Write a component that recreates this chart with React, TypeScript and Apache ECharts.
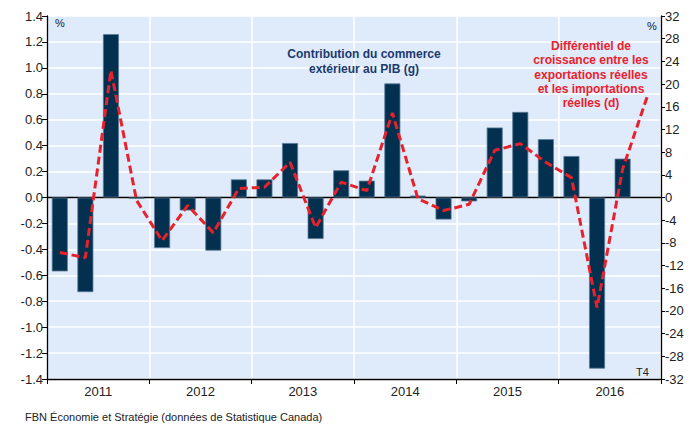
import React, { useEffect, useRef } from "react";
import * as echarts from "echarts";

const years = ["2011", "2012", "2013", "2014", "2015", "2016"];
const quarterNames = ["T1", "T2", "T3", "T4"];
const quarters = years.flatMap((y) => quarterNames.map((q) => `${y}${q}`));

// Contribution du commerce extérieur au PIB (g), %
const contribution = [
  -0.57, -0.73, 1.26, -0.01,
  -0.39, -0.1, -0.41, 0.14,
  0.14, 0.42, -0.32, 0.21,
  0.13, 0.88, 0.015, -0.17,
  -0.03, 0.54, 0.66, 0.45,
  0.32, -1.32, 0.3, null,
];

// Différentiel de croissance exportations - importations réelles (d), %
const differential = [
  -9.7, -10.6, 22.4, -0.5,
  -7.6, -1.4, -6.2, 1.6,
  1.8, 6.2, -5.3, 2.7,
  1.2, 14.9, -0.2, -2.3,
  -1.2, 8.3, 9.5, 6.2,
  3.5, -19.4, 5.0, 18.3,
];

const FONT = 'Arial, "Liberation Sans", sans-serif';

export default function App() {
  const ref = useRef<HTMLDivElement>(null);
  useEffect(() => {
    if (!ref.current) return;
    const chart = echarts.init(ref.current, null, { renderer: "svg" });
    chart.setOption({
      animation: false,
      textStyle: { fontFamily: FONT },
      grid: {
        left: 47,
        right: 36,
        top: 16,
        bottom: 52,
        show: true,
        backgroundColor: "#dfeafb",
        borderWidth: 0,
      },
      xAxis: [
        {
          type: "category",
          data: quarters,
          position: "bottom",
          boundaryGap: true,
          axisLine: { show: true, onZero: true, onZeroAxisIndex: 0, lineStyle: { color: "#000", width: 1.3 } },
          axisTick: { show: false },
          axisLabel: { show: false },
          splitLine: { show: false },
        },
        {
          type: "category",
          data: years,
          position: "bottom",
          boundaryGap: true,
          axisLine: { show: true, onZero: false, lineStyle: { color: "#000", width: 1.3 } },
          axisTick: { show: true, interval: 0, length: 5, lineStyle: { color: "#000" } },
          axisLabel: { show: true, interval: 0, fontSize: 13, color: "#222", margin: 6, fontFamily: FONT },
          splitLine: { show: true, interval: 0, lineStyle: { color: "#ffffff", width: 1.5 } },
        },
      ],
      yAxis: [
        {
          type: "value",
          position: "left",
          min: -1.4,
          max: 1.4,
          interval: 0.2,
          axisLine: { show: true, lineStyle: { color: "#000", width: 1.3 } },
          axisTick: { show: true, length: 5, lineStyle: { color: "#000" } },
          axisLabel: {
            fontSize: 13,
            color: "#222",
            margin: 4,
            fontFamily: FONT,
            formatter: (v: number) => v.toFixed(1),
          },
          splitLine: { show: true, lineStyle: { color: "#ffffff", width: 1.5 } },
        },
        {
          type: "value",
          position: "right",
          min: -32,
          max: 32,
          interval: 4,
          axisLine: { show: true, lineStyle: { color: "#000", width: 1.3 } },
          axisTick: { show: true, length: 4, lineStyle: { color: "#000" } },
          axisLabel: { fontSize: 13, color: "#222", margin: 4, fontFamily: FONT },
          splitLine: { show: false },
        },
      ],
      series: [
        {
          type: "bar",
          name: "Contribution du commerce extérieur au PIB (g)",
          xAxisIndex: 0,
          yAxisIndex: 0,
          data: contribution,
          barWidth: 16,
          itemStyle: { color: "#03304f", borderColor: "#5a7b97", borderWidth: 0.8 },
          z: 2,
        },
        {
          type: "line",
          name: "Différentiel de croissance entre les exportations réelles et les importations réelles (d)",
          xAxisIndex: 0,
          yAxisIndex: 1,
          data: differential,
          symbol: "none",
          lineStyle: { color: "#e8222c", width: 3, type: [8, 4] },
          z: 3,
        },
      ],
      graphic: [
        {
          type: "text",
          left: 55,
          top: 17,
          z: 100,
          style: { text: "%", fill: "#222", font: `11px ${FONT}` },
        },
        {
          type: "text",
          left: 647,
          top: 20,
          z: 100,
          style: { text: "%", fill: "#222", font: `11px ${FONT}` },
        },
        {
          type: "text",
          left: 636,
          top: 366,
          z: 100,
          style: { text: "T4", fill: "#222", font: `11px ${FONT}` },
        },
        {
          type: "text",
          x: 364,
          y: 46.5,
          z: 100,
          style: {
            text: "Contribution du commerce\nextérieur au PIB (g)",
            fill: "#1c3a6e",
            font: `bold 12px ${FONT}`,
            textAlign: "center",
            textVerticalAlign: "top",
            lineHeight: 15,
          },
        },
        {
          type: "text",
          x: 591,
          y: 39,
          z: 100,
          style: {
            text: "Différentiel de\ncroissance entre les\nexportations réelles\net les importations\nréelles (d)",
            fill: "#e8222c",
            font: `bold 12px ${FONT}`,
            textAlign: "center",
            textVerticalAlign: "top",
            lineHeight: 14.2,
          },
        },
        {
          type: "text",
          left: 25,
          top: 411,
          z: 100,
          style: {
            text: "FBN Économie et Stratégie (données de Statistique Canada)",
            fill: "#222",
            font: `11px ${FONT}`,
          },
        },
      ],
    });
    return () => chart.dispose();
  }, []);
  return (
    <div
      ref={ref}
      style={{ position: "fixed", left: 0, top: 0, width: 697, height: 431, background: "#fff" }}
    />
  );
}
